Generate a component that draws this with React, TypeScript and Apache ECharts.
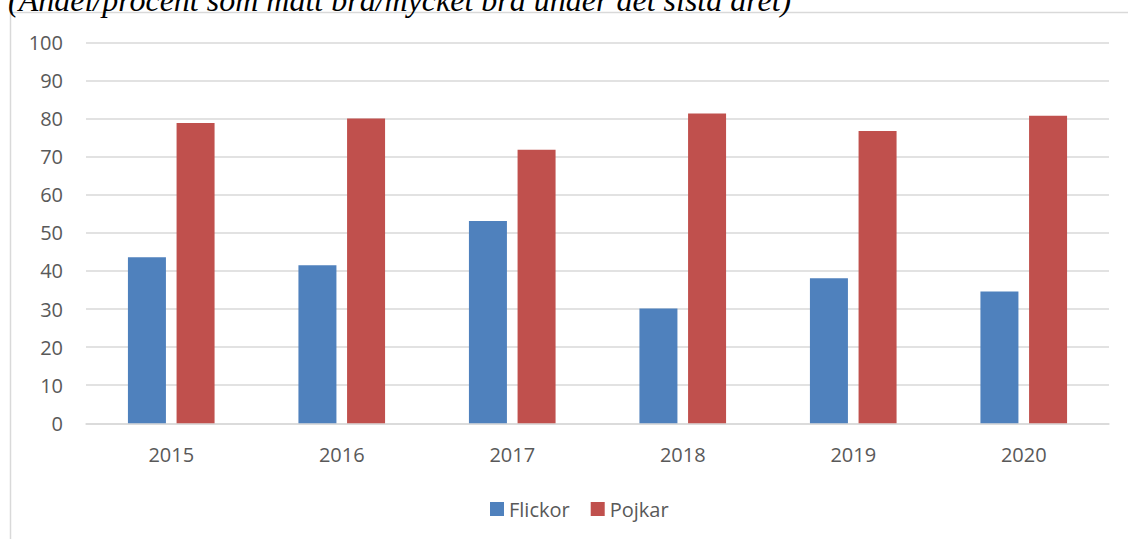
import React, { useEffect, useRef } from "react";
import * as echarts from "echarts";

const titleText = "(Andel/procent som mått bra/mycket bra under det sista året)";
const categories = ["2015", "2016", "2017", "2018", "2019", "2020"];
const flickor = [43.6, 41.5, 53.1, 30.1, 38.1, 34.6];
const pojkar = [78.8, 80.0, 71.8, 81.3, 76.7, 80.7];
const yTicks = { min: 0, max: 100, interval: 10 };

export default function App() {
  const ref = useRef<HTMLDivElement>(null);
  useEffect(() => {
    if (!ref.current) return;
    const chart = echarts.init(ref.current, undefined, { renderer: "svg" });
    const labelColor = "#595959";
    const font = "'Open Sans', 'Liberation Sans', sans-serif";
    chart.setOption({
      animation: false,
      backgroundColor: "#ffffff",
      graphic: [
        {
          type: "rect",
          shape: { x: 10.5, y: 12.5, width: 1300, height: 700 },
          style: { fill: "none", stroke: "#d9d9d9", lineWidth: 1.5 },
          z: 0,
        },
        {
          type: "text",
          x: 8,
          y: 0,
          style: {
            text: titleText,
            font: "italic 32px 'Liberation Serif', 'Times New Roman', serif",
            fill: "#000000",
            verticalAlign: "middle",
            align: "left",
          },
          z: 10,
        },
      ],
      grid: { left: 86, right: 19, top: 42.3, bottom: 115.7, containLabel: false },
      legend: {
        data: ["Flickor", "Pojkar"],
        left: 485,
        top: 494,
        itemWidth: 14,
        itemHeight: 14,
        itemGap: 21,
        icon: "rect",
        textStyle: { color: labelColor, fontSize: 20, fontFamily: font },
      },
      xAxis: {
        type: "category",
        data: categories,
        axisLine: { show: true, lineStyle: { color: "#d9d9d9", width: 1.5 } },
        axisTick: { show: false },
        axisLabel: { color: labelColor, fontSize: 20, fontFamily: font, margin: 21 },
      },
      yAxis: {
        type: "value",
        min: yTicks.min,
        max: yTicks.max,
        interval: yTicks.interval,
        axisLine: { show: false },
        axisTick: { show: false },
        axisLabel: { color: labelColor, fontSize: 20, fontFamily: font, margin: 23 },
        splitLine: { lineStyle: { color: "#d9d9d9", width: 1.5 } },
      },
      series: [
        {
          name: "Flickor",
          type: "bar",
          data: flickor,
          barWidth: 38,
          barGap: "28%",
          itemStyle: { color: "#4f81bd" },
        },
        {
          name: "Pojkar",
          type: "bar",
          data: pojkar,
          barWidth: 38,
          barGap: "28%",
          itemStyle: { color: "#c0504d" },
        },
      ],
    });
    return () => chart.dispose();
  }, []);
  return (
    <div
      ref={ref}
      style={{ position: "fixed", left: 0, top: 0, width: 1128, height: 539 }}
    />
  );
}
